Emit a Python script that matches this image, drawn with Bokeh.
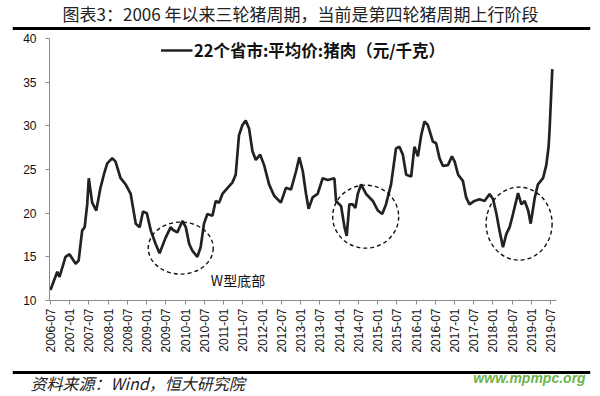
import math
import pandas as pd
from bokeh.plotting import figure
from bokeh.layouts import column
from bokeh.models import Range1d, FixedTicker, DatetimeTickFormatter, Label, Span
from bokeh.embed import file_html
from bokeh.resources import INLINE

TITLE = "图表3：2006 年以来三轮猪周期，当前是第四轮猪周期上行阶段"
SERIES_NAME = "22个省市:平均价:猪肉（元/千克）"
SOURCE = "资料来源：Wind，恒大研究院"
NOTE_W = "W型底部"
WATERMARK_URL = "www.mpmpc.org"

dates = [
    "2006-07-01", "2006-09-04", "2006-09-25", "2006-11-21", "2006-12-29", "2007-02-25", "2007-03-26",
    "2007-04-28", "2007-05-22", "2007-06-15", "2007-06-30", "2007-08-01", "2007-09-09", "2007-10-19",
    "2007-11-20", "2007-12-22", "2008-02-08", "2008-03-10", "2008-04-27", "2008-06-14", "2008-08-01",
    "2008-09-18", "2008-10-25", "2008-11-26", "2009-01-01", "2009-02-08", "2009-03-25", "2009-05-02",
    "2009-06-29", "2009-08-16", "2009-09-04", "2009-10-18", "2009-12-05", "2010-01-06", "2010-02-07",
    "2010-03-09", "2010-04-26", "2010-05-27", "2010-06-28", "2010-07-30", "2010-09-16", "2010-10-17",
    "2010-11-18", "2010-12-20", "2011-02-07", "2011-03-24", "2011-04-25", "2011-05-26", "2011-06-28",
    "2011-07-29", "2011-08-30", "2011-10-01", "2011-11-02", "2011-12-13", "2012-01-20", "2012-03-07",
    "2012-04-24", "2012-06-27", "2012-08-14", "2012-10-01", "2012-11-18", "2012-12-19", "2013-01-21",
    "2013-02-21", "2013-03-17", "2013-04-24", "2013-06-11", "2013-07-29", "2013-09-15", "2013-11-17",
    "2013-12-03", "2014-01-20", "2014-02-21", "2014-03-14", "2014-04-08", "2014-05-10", "2014-06-04",
    "2014-06-27", "2014-07-28", "2014-09-14", "2014-11-17", "2015-01-04", "2015-02-14", "2015-03-22",
    "2015-05-09", "2015-06-25", "2015-07-27", "2015-08-29", "2015-09-30", "2015-11-16", "2015-12-17",
    "2016-01-19", "2016-02-19", "2016-03-21", "2016-04-22", "2016-06-09", "2016-07-10", "2016-08-11",
    "2016-09-13", "2016-10-30", "2016-12-07", "2017-01-02", "2017-02-04", "2017-03-21", "2017-04-21",
    "2017-05-23", "2017-07-09", "2017-08-26", "2017-10-13", "2017-11-30", "2018-01-02", "2018-02-03",
    "2018-03-04", "2018-04-06", "2018-05-07", "2018-06-08", "2018-07-10", "2018-08-27", "2018-09-28",
    "2018-10-29", "2018-12-01", "2018-12-25", "2019-02-02", "2019-03-04", "2019-04-21", "2019-05-22",
    "2019-06-13", "2019-06-23", "2019-07-18",
]
prices = [
    11.2, 13.3, 12.7, 15.0, 15.3, 14.2, 14.6,
    18.0, 18.4, 21.0, 24.0, 21.2, 20.3, 22.9,
    24.4, 25.7, 26.3, 25.9, 24.0, 23.3, 22.2,
    18.8, 18.4, 20.2, 20.0, 18.0, 16.5, 15.4,
    17.2, 18.4, 18.1, 17.8, 19.1, 18.4, 16.5,
    15.7, 15.0, 16.1, 18.8, 19.9, 19.7, 21.4,
    21.2, 22.2, 22.9, 23.5, 24.4, 28.9, 30.1,
    30.6, 29.7, 27.1, 26.1, 26.7, 25.5, 23.3,
    22.0, 21.2, 22.9, 22.7, 24.8, 26.4, 24.8,
    22.2, 20.5, 21.8, 22.2, 24.0, 23.8, 24.0,
    21.4, 20.8, 18.4, 17.4, 21.0, 21.0, 20.6,
    22.2, 23.3, 22.2, 21.4, 20.3, 19.9, 21.0,
    23.3, 27.4, 27.6, 26.7, 24.4, 24.2, 27.6,
    26.5, 28.9, 30.5, 30.1, 28.2, 28.0, 26.3,
    25.4, 25.5, 26.5, 25.9, 24.4, 23.7, 21.8,
    21.0, 21.4, 21.6, 21.4, 22.2, 21.6, 19.9,
    18.0, 16.1, 17.6, 18.4, 19.9, 22.3, 21.0,
    21.4, 20.3, 18.8, 21.8, 23.3, 24.0, 25.5,
    27.6, 29.7, 36.5,
]
tick_labels = [
    "2006-07", "2007-01", "2007-07", "2008-01", "2008-07", "2009-01", "2009-07", "2010-01", "2010-07",
    "2011-01", "2011-07", "2012-01", "2012-07", "2013-01", "2013-07", "2014-01", "2014-07", "2015-01",
    "2015-07", "2016-01", "2016-07", "2017-01", "2017-07", "2018-01", "2018-07", "2019-01", "2019-07",
]
y_ticks = [10, 15, 20, 25, 30, 35, 40]
# highlighted bottoms of the three cycles (centre date, centre price)
bottom_dates = ["2009-11-19", "2014-09-10", "2018-09-06"]
bottom_prices = [16.0, 19.6, 18.8]


def ms(s):
    return pd.Timestamp(s).timestamp() * 1000.0


def no_align(fig):
    try:
        fig.frame_align = False
    except Exception:
        pass


FONT_CN = "Noto Sans CJK SC"
FONT_NUM = "Liberation Sans"
W = 596

# ---------- top strip: title + rule ----------
top = figure(width=W, height=31, x_range=Range1d(12, 590), y_range=Range1d(31, 0),
             x_axis_type=None, y_axis_type=None, title=None,
             output_backend="svg", toolbar_location=None,
             min_border_left=12, min_border_right=6, min_border_top=0, min_border_bottom=0)
top.outline_line_color = None
no_align(top)
top.add_layout(Label(x=300, y=13, text=TITLE, text_align="center", text_baseline="middle",
                     text_font=FONT_CN, text_font_size="17px", text_color="#222222"))
top.add_layout(Span(location=28, dimension="width", line_width=3, line_color="black"))

# ---------- main chart ----------
p = figure(width=W, height=332, x_axis_type="datetime", title=None,
           x_range=Range1d(ms("2006-06-22"), ms("2019-08-27")), y_range=Range1d(10, 40),
           output_backend="svg", toolbar_location=None,
           min_border_left=49, min_border_right=40, min_border_top=7, min_border_bottom=63)
p.outline_line_color = None
p.xgrid.visible = False
p.ygrid.visible = False
no_align(p)

p.line(x=pd.to_datetime(dates), y=prices, line_width=2.7, line_color="#222222",
       legend_label=SERIES_NAME)

p.ellipse(x=pd.to_datetime(bottom_dates), y=bottom_prices, width=[65, 66, 66], height=[52, 63, 73],
          width_units="screen", height_units="screen", fill_color=None,
          line_color="#111111", line_dash="4 3", line_width=1.4)

p.yaxis.ticker = FixedTicker(ticks=y_ticks)
p.xaxis.ticker = FixedTicker(ticks=[ms(t + "-01") for t in tick_labels])
fmt = "%Y-%m"
p.xaxis.formatter = DatetimeTickFormatter(microseconds=fmt, milliseconds=fmt, seconds=fmt, minsec=fmt,
                                          minutes=fmt, hourmin=fmt, hours=fmt, days=fmt,
                                          months=fmt, years=fmt)
p.xaxis.major_label_orientation = math.pi / 2
for ax in (p.xaxis, p.yaxis):
    ax.axis_line_color = "#8c8c8c"
    ax.axis_line_width = 1
    ax.major_tick_line_color = "#8c8c8c"
    ax.major_tick_in = 0
    ax.major_tick_out = 4
    ax.minor_tick_line_color = None
    ax.major_label_text_font = FONT_NUM
    ax.major_label_text_font_size = "12px"
    ax.major_label_text_color = "#111111"
p.yaxis.major_label_standoff = 9
p.xaxis.major_label_standoff = 4

lg = p.legend[0]
lg.location = "top_center"
lg.margin = 0
lg.padding = 0
lg.border_line_color = None
lg.background_fill_alpha = 0
lg.label_text_font = FONT_CN
lg.label_text_font_style = "bold"
lg.label_text_font_size = "16.5px"
lg.label_text_color = "#111111"
lg.glyph_width = 32
lg.label_standoff = 2

p.add_layout(Label(x=ms("2010-09-01"), y=12.3, text=NOTE_W, text_align="left", text_baseline="middle",
                   text_font=FONT_CN, text_font_size="14px", text_color="#111111"))

# ---------- bottom strip: rule + source ----------
bot = figure(width=W, height=31, x_range=Range1d(12, 590), y_range=Range1d(31, 0),
             x_axis_type=None, y_axis_type=None, title=None,
             output_backend="svg", toolbar_location=None,
             min_border_left=12, min_border_right=6, min_border_top=0, min_border_bottom=0)
bot.outline_line_color = None
no_align(bot)
bot.add_layout(Span(location=9, dimension="width", line_width=3, line_color="black"))
bot.add_layout(Label(x=30, y=19.5, text=SOURCE, text_align="left", text_baseline="middle",
                     text_font=FONT_CN, text_font_style="italic", text_font_size="16px",
                     text_color="#222222"))
bot.add_layout(Label(x=529, y=14, text=WATERMARK_URL, text_align="center", text_baseline="middle",
                     text_font=FONT_NUM, text_font_style="bold italic", text_font_size="14px",
                     text_color="#5aaa32", text_alpha=0.9))

layout = column(top, p, bot)
open("out.html", "w").write(file_html(layout, INLINE))
